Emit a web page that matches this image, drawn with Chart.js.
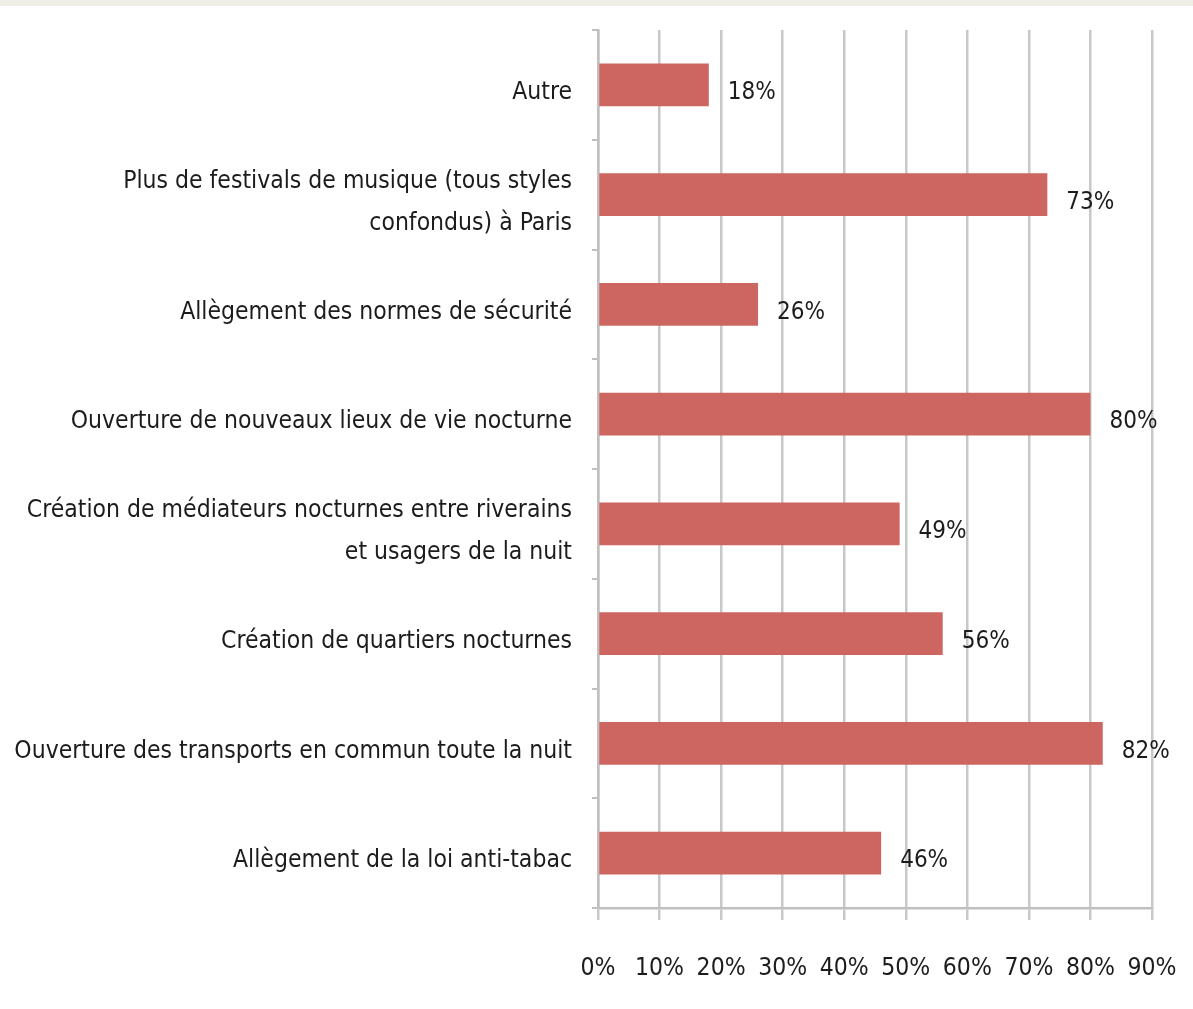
<!DOCTYPE html>
<html>
<head>
<meta charset="utf-8">
<script src="https://cdn.jsdelivr.net/npm/chart.js@4"></script>
<style>
  html, body { margin: 0; padding: 0; background: #ffffff; }
  #topStrip { position: absolute; left: 0; top: 0; width: 1193px; height: 6px; background: #efefe7; }
  #chart { position: absolute; left: 0; top: 0; }
</style>
</head>
<body>
<canvas id="chart" width="1193" height="1009"></canvas>
<div id="topStrip"></div>
<script>
// Survey answers, top to bottom as in the picture.
const categories = [
  "Autre",
  ["Plus de festivals de musique (tous styles", "confondus) à Paris"],
  "Allègement des normes de sécurité",
  "Ouverture de nouveaux lieux de vie nocturne",
  ["Création de médiateurs nocturnes entre riverains", "et usagers de la nuit"],
  "Création de quartiers nocturnes",
  "Ouverture des transports en commun toute la nuit",
  "Allègement de la loi anti-tabac"
];
const shares = [18, 73, 26, 80, 49, 56, 82, 46];
const xTicks = [0, 10, 20, 30, 40, 50, 60, 70, 80, 90];

const FONT = "'Liberation Sans Narrow', 'DejaVu Sans Condensed', sans-serif";

// Draws the "NN%" value just right of each bar.
const valueLabels = {
  id: "valueLabels",
  afterDatasetsDraw(chart) {
    const ctx = chart.ctx;
    const meta = chart.getDatasetMeta(0);
    ctx.save();
    ctx.font = "24px " + FONT;
    ctx.fillStyle = "#1c1c1c";
    ctx.textAlign = "left";
    ctx.textBaseline = "middle";
    meta.data.forEach((bar, i) => {
      ctx.fillText(shares[i] + "%", bar.x + 19, bar.y + 8);
    });
    ctx.restore();
  }
};

const ctx = document.getElementById("chart").getContext("2d");
new Chart(ctx, {
  type: "bar",
  data: {
    labels: categories,
    datasets: [{
      data: shares,
      backgroundColor: "#cd6560",
      borderWidth: 0,
      barPercentage: 0.78,
      categoryPercentage: 0.5
    }]
  },
  options: {
    indexAxis: "y",
    responsive: false,
    animation: false,
    events: [],
    layout: { padding: { top: 30, right: 41, left: 0, bottom: 0 } },
    plugins: {
      legend: { display: false },
      tooltip: { enabled: false }
    },
    scales: {
      x: {
        min: 0,
        max: 90,
        afterBuildTicks: axis => { axis.ticks = xTicks.map(v => ({ value: v })); },
        afterFit: axis => {
          axis.height = 101;
          // let layout.padding alone decide the plot edges
          axis.paddingLeft = 0;
          axis.paddingRight = 0;
        },
        grid: {
          color: "#c8c8c8",
          lineWidth: 2.5,
          drawTicks: true,
          tickLength: 12
        },
        border: { color: "#c0c0c0", width: 2.5 },
        ticks: {
          padding: 34,
          color: "#1c1c1c",
          font: { family: FONT, size: 24.5 },
          callback: v => v + "%"
        }
      },
      y: {
        afterFit: axis => {
          axis.width = 598;
          axis.paddingTop = 0;
          axis.paddingBottom = 0;
        },
        grid: {
          drawOnChartArea: false,
          drawTicks: true,
          tickLength: 6,
          color: "#c0c0c0",
          lineWidth: 2
        },
        border: { color: "#c0c0c0", width: 2.5 },
        ticks: {
          padding: 20,
          labelOffset: 8,
          color: "#1c1c1c",
          font: { family: FONT, size: 24.5, lineHeight: 1.7 }
        }
      }
    }
  },
  plugins: [valueLabels]
});
</script>
</body>
</html>
